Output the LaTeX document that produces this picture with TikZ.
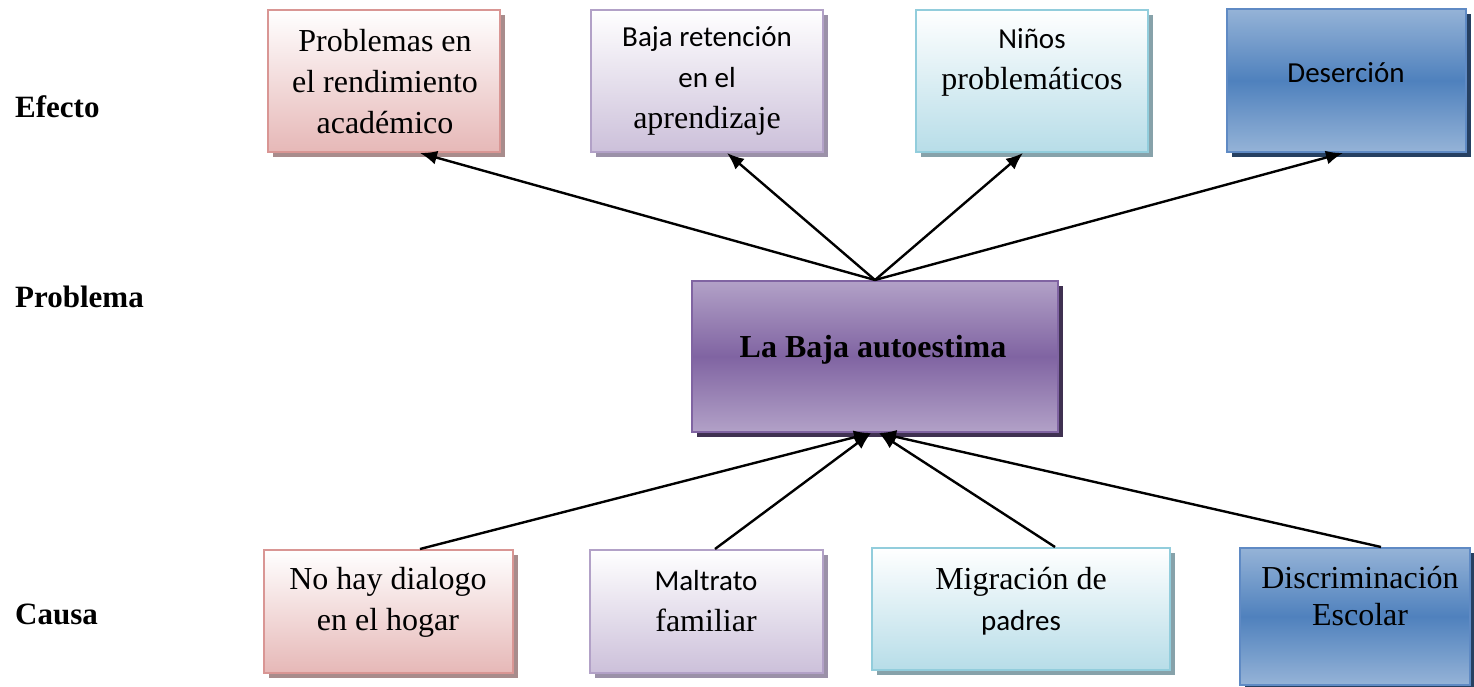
\documentclass[tikz,border=0pt]{standalone}
\usepackage{fontspec}
\setmainfont{Liberation Serif}
\newfontfamily\calfont{Carlito}
\usetikzlibrary{shadows,arrows.meta}
\definecolor{pinkB}{RGB}{217,150,148}
\definecolor{pinkF}{RGB}{230,184,183}
\definecolor{pinkS}{RGB}{168,140,140}
\definecolor{lavB}{RGB}{178,161,199}
\definecolor{lavF}{RGB}{204,192,218}
\definecolor{lavS}{RGB}{155,145,168}
\definecolor{cyaB}{RGB}{146,205,220}
\definecolor{cyaF}{RGB}{183,221,232}
\definecolor{cyaS}{RGB}{135,162,170}
\definecolor{bluB}{RGB}{95,138,196}
\definecolor{bluL}{RGB}{149,179,215}
\definecolor{bluM}{RGB}{79,129,189}
\definecolor{bluS}{RGB}{38,64,97}
\definecolor{purL}{RGB}{178,161,199}
\definecolor{purM}{RGB}{128,100,162}
\definecolor{purS}{RGB}{63,49,81}
\newcommand{\cf}{\calfont\fontsize{29}{41}\selectfont}
\tikzset{
  box/.style={rectangle, line width=2pt, inner sep=0pt},
  pinkbox/.style={box, draw=pinkB, top color=white, bottom color=pinkF,
    drop shadow={shadow xshift=5pt, shadow yshift=-5pt, fill=pinkS, opacity=1}},
  lavbox/.style={box, draw=lavB, top color=white, bottom color=lavF,
    drop shadow={shadow xshift=5pt, shadow yshift=-5pt, fill=lavS, opacity=1}},
  cyabox/.style={box, draw=cyaB, top color=white, bottom color=cyaF,
    drop shadow={shadow xshift=5pt, shadow yshift=-5pt, fill=cyaS, opacity=1}},
  blubox/.style={box, draw=bluB, top color=bluL, bottom color=bluL, middle color=bluM,
    drop shadow={shadow xshift=5pt, shadow yshift=-5pt, fill=bluS, opacity=1}},
  purbox/.style={box, draw=purM, top color=purL, bottom color=purL, middle color=purM,
    drop shadow={shadow xshift=5pt, shadow yshift=-5pt, fill=purS, opacity=1}},
  txt/.style={align=center, inner sep=0pt, font=\fontsize{32}{41}\selectfont},
  lab/.style={anchor=west, inner sep=0pt, font=\fontsize{31}{36}\selectfont\bfseries},
  arr/.style={line width=2.4pt, -{Latex[length=17pt,width=14pt]}}
}
\begin{document}
\begin{tikzpicture}[x=1pt,y=-1pt]
\useasboundingbox (0,0) rectangle (1474,687);
% side labels
\node[lab] (le) at (15,107) {Efecto};
\node[lab] (lp) at (15,297) {Problema};
\node[lab] (lc) at (15,614) {Causa};
% top row
\node[pinkbox, minimum width=232pt, minimum height=142pt] (b1) at (384,81) {};
\node[lavbox, minimum width=232pt, minimum height=142pt] (b2) at (707,81) {};
\node[cyabox, minimum width=232pt, minimum height=142pt] (b3) at (1032,81) {};
\node[blubox, minimum width=239pt, minimum height=143pt] (b4) at (1346.5,80.5) {};
\node[txt] (t1) at (385,82) {Problemas en\\el rendimiento\\académico};
\node[txt] (t2) at (707,81) {{\cf Baja retención}\\{\cf en el}\\aprendizaje};
\node[txt] (t3) at (1032,62) {{\cf Niños}\\problemáticos};
\node[txt, font=\cf] (t4) at (1346,73) {Deserción};
% center
\node[purbox, minimum width=366pt, minimum height=151pt] (c) at (875,356.5) {};
\node[txt, font=\fontsize{32}{41}\selectfont\bfseries] (tc) at (873,350) {La Baja autoestima};
% bottom row
\node[pinkbox, minimum width=249pt, minimum height=123pt] (b5) at (388.5,611.5) {};
\node[lavbox, minimum width=233pt, minimum height=123pt] (b6) at (706.5,611.5) {};
\node[cyabox, minimum width=298pt, minimum height=122pt] (b7) at (1021,609) {};
\node[blubox, minimum width=230pt, minimum height=137pt] (b8) at (1355,616.5) {};
\node[txt] (t5) at (388,602) {No hay dialogo\\en el hogar};
\node[txt] (t6) at (706,601) {{\cf Maltrato}\\familiar};
\node[txt] (t7) at (1021,601) {Migración de\\{\cf padres}};
\node[txt, font=\fontsize{32}{37}\selectfont] (t8) at (1360,596) {Discriminación\\Escolar};
% arrows
\draw[arr] (c.north) -- ([xshift=36pt]b1.south);
\draw[arr] (c.north) -- ([xshift=20pt]b2.south);
\draw[arr] (c.north) -- ([xshift=-9pt]b3.south);
\draw[arr] (c.north) -- ([xshift=-3.5pt]b4.south);
\draw[arr] ([xshift=31.5pt]b5.north) -- ([xshift=-4pt]c.south);
\draw[arr] ([xshift=8.5pt]b6.north) -- ([xshift=-4pt]c.south);
\draw[arr] ([xshift=34pt]b7.north) -- ([xshift=4pt]c.south);
\draw[arr] ([xshift=26pt]b8.north) -- ([xshift=4pt]c.south);
\end{tikzpicture}
\end{document}
